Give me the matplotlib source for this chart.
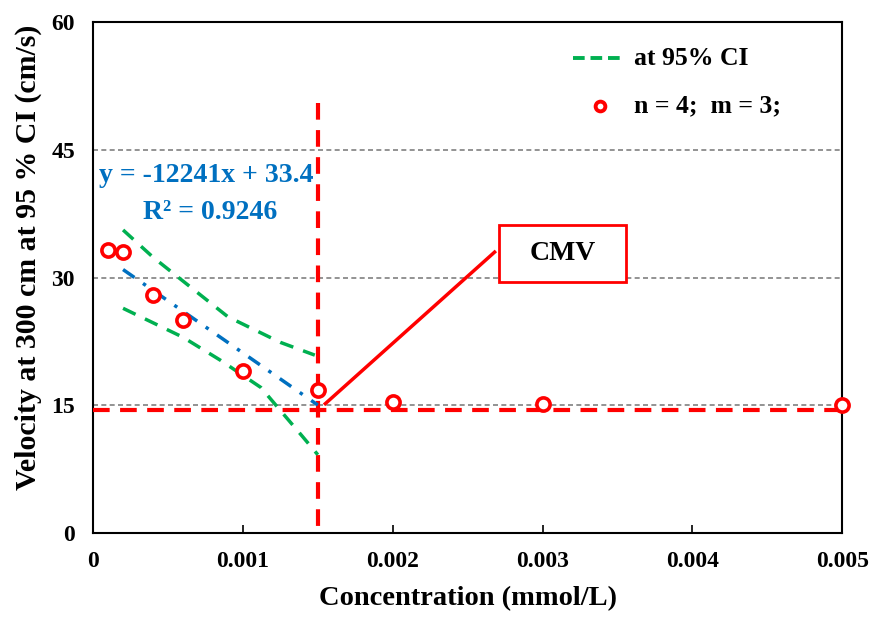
import matplotlib
matplotlib.use("Agg")
import matplotlib.pyplot as plt
from matplotlib.patches import Rectangle

plt.rcParams['font.family'] = ['Liberation Serif', 'DejaVu Serif']
plt.rcParams['font.weight'] = 'bold'

# Data
conc = [0.0001, 0.0002, 0.0004, 0.0006, 0.001, 0.0015, 0.002, 0.003, 0.005]
velocity = [33.2, 33.0, 28.0, 25.0, 19.0, 16.8, 15.4, 15.2, 15.1]

fit_x = [0.0002, 0.0015]
slope, intercept = -12241, 33.4

ci_upper_x = [0.0002, 0.0004, 0.0006, 0.0009, 0.00125, 0.00148]
ci_upper_y = [35.6, 32.4, 29.6, 25.4, 22.4, 20.9]
ci_lower_x = [0.0002, 0.0006, 0.00085, 0.00112, 0.00125, 0.0014, 0.0015]
ci_lower_y = [26.4, 23.0, 20.3, 17.1, 14.4, 11.3, 9.2]

cmv_x = 0.0015
cmv_y = 14.4
cmv_vline_top = 50.5
pointer_x = [0.00155, 0.00268]
pointer_y = [15.2, 33.0]
cmv_box_x = [0.00271, 0.003558]
cmv_box_y = [29.5, 36.2]

xticks = [0, 0.001, 0.002, 0.003, 0.004, 0.005]
xticklabels = ['0', '0.001', '0.002', '0.003', '0.004', '0.005']
yticks = [0, 15, 30, 45, 60]

GREEN = '#00B050'
BLUE = '#0070C0'
RED = '#FF0000'

fig = plt.figure(figsize=(8.7, 6.17), dpi=100)
ax = fig.add_axes([0.107, 0.136, 0.861, 0.828])

ax.set_xlim(0, 0.005)
ax.set_ylim(0, 60)

# grid
for yv in [15, 30, 45]:
    ax.axhline(yv, color='#808080', linestyle=(0, (3, 2)), linewidth=1.2, zorder=1)

# CMV lines
ax.plot([0, 0.005], [cmv_y, cmv_y], color=RED, linestyle=(0, (4, 2.5)), linewidth=3, zorder=3)
ax.plot([cmv_x, cmv_x], [cmv_vline_top, 0], color=RED, linestyle=(0, (4, 2.5)), linewidth=3, zorder=3)

# CI
ax.plot(ci_upper_x, ci_upper_y, color=GREEN, linestyle=(0, (4, 3)), linewidth=2.5, zorder=4)
ax.plot(ci_lower_x, ci_lower_y, color=GREEN, linestyle=(0, (4, 3)), linewidth=2.5, zorder=4)

# fit
fit_y = [slope * x + intercept for x in fit_x]
ax.plot(fit_x, fit_y, color=BLUE, linestyle=(0, (4, 3, 1, 3)), linewidth=2.5, zorder=4)

# points
ax.plot(conc, velocity, linestyle='none', marker='o', markersize=9.5, markerfacecolor='white',
        markeredgecolor=RED, markeredgewidth=2.6, zorder=6, clip_on=False)

# pointer and CMV box
ax.plot(pointer_x, pointer_y, color=RED, linewidth=2.5, zorder=5)
ax.add_patch(Rectangle((cmv_box_x[0], cmv_box_y[0]), cmv_box_x[1] - cmv_box_x[0], cmv_box_y[1] - cmv_box_y[0],
                       facecolor='white', edgecolor=RED, linewidth=2, zorder=7))
ax.text((cmv_box_x[0] + cmv_box_x[1]) / 2, (cmv_box_y[0] + cmv_box_y[1]) / 2, 'CMV', fontsize=20,
        fontweight='bold', ha='center', va='center', zorder=8)

# equation
ax.text(0.00004, 42.0, 'y = -12241x + 33.4', color=BLUE, fontsize=20, fontweight='bold', ha='left', va='center')
ax.text(0.00078, 37.7, 'R² = 0.9246', color=BLUE, fontsize=20, fontweight='bold', ha='center', va='center')

# legend (manual)
def px_to_ax(px, py):
    return ((px - 93) / 749.0, (533 - py) / 511.0)

lx0, ly0 = px_to_ax(573, 58)
lx1, _ = px_to_ax(625, 58)
ax.plot([lx0, lx1], [ly0, ly0], transform=ax.transAxes, color=GREEN, linestyle=(0, (3, 1.5)), linewidth=2.8)
tx, _ = px_to_ax(634, 58)
ax.text(tx, ly0, 'at 95% CI', transform=ax.transAxes, fontsize=18.5, fontweight='bold', ha='left', va='center')
mx, my = px_to_ax(600, 106)
ax.plot([mx], [my], transform=ax.transAxes, linestyle='none', marker='o', markersize=7, markerfacecolor='white',
        markeredgecolor=RED, markeredgewidth=2.8)
ax.text(tx, my, 'n = 4;  m = 3;', transform=ax.transAxes, fontsize=18.5, fontweight='bold', ha='left', va='center')

ax.set_xticks(xticks)
ax.set_xticklabels(xticklabels)
ax.set_yticks(yticks)
ax.tick_params(axis='x', direction='in', length=6, width=1.2, labelsize=17, pad=13)
ax.tick_params(axis='y', length=0, labelsize=17, pad=13)
for lab in ax.get_xticklabels() + ax.get_yticklabels():
    lab.set_fontweight('bold')
for sp in ax.spines.values():
    sp.set_linewidth(1.5)

ax.set_xlabel('Concentration (mmol/L)', fontsize=20.5, fontweight='bold', labelpad=10)
ax.set_ylabel('Velocity at 300 cm at 95 % CI (cm/s)', fontsize=21.5, fontweight='bold')
ax.yaxis.set_label_coords(-0.068, 0.54)

fig.savefig('out.png', dpi=100)
